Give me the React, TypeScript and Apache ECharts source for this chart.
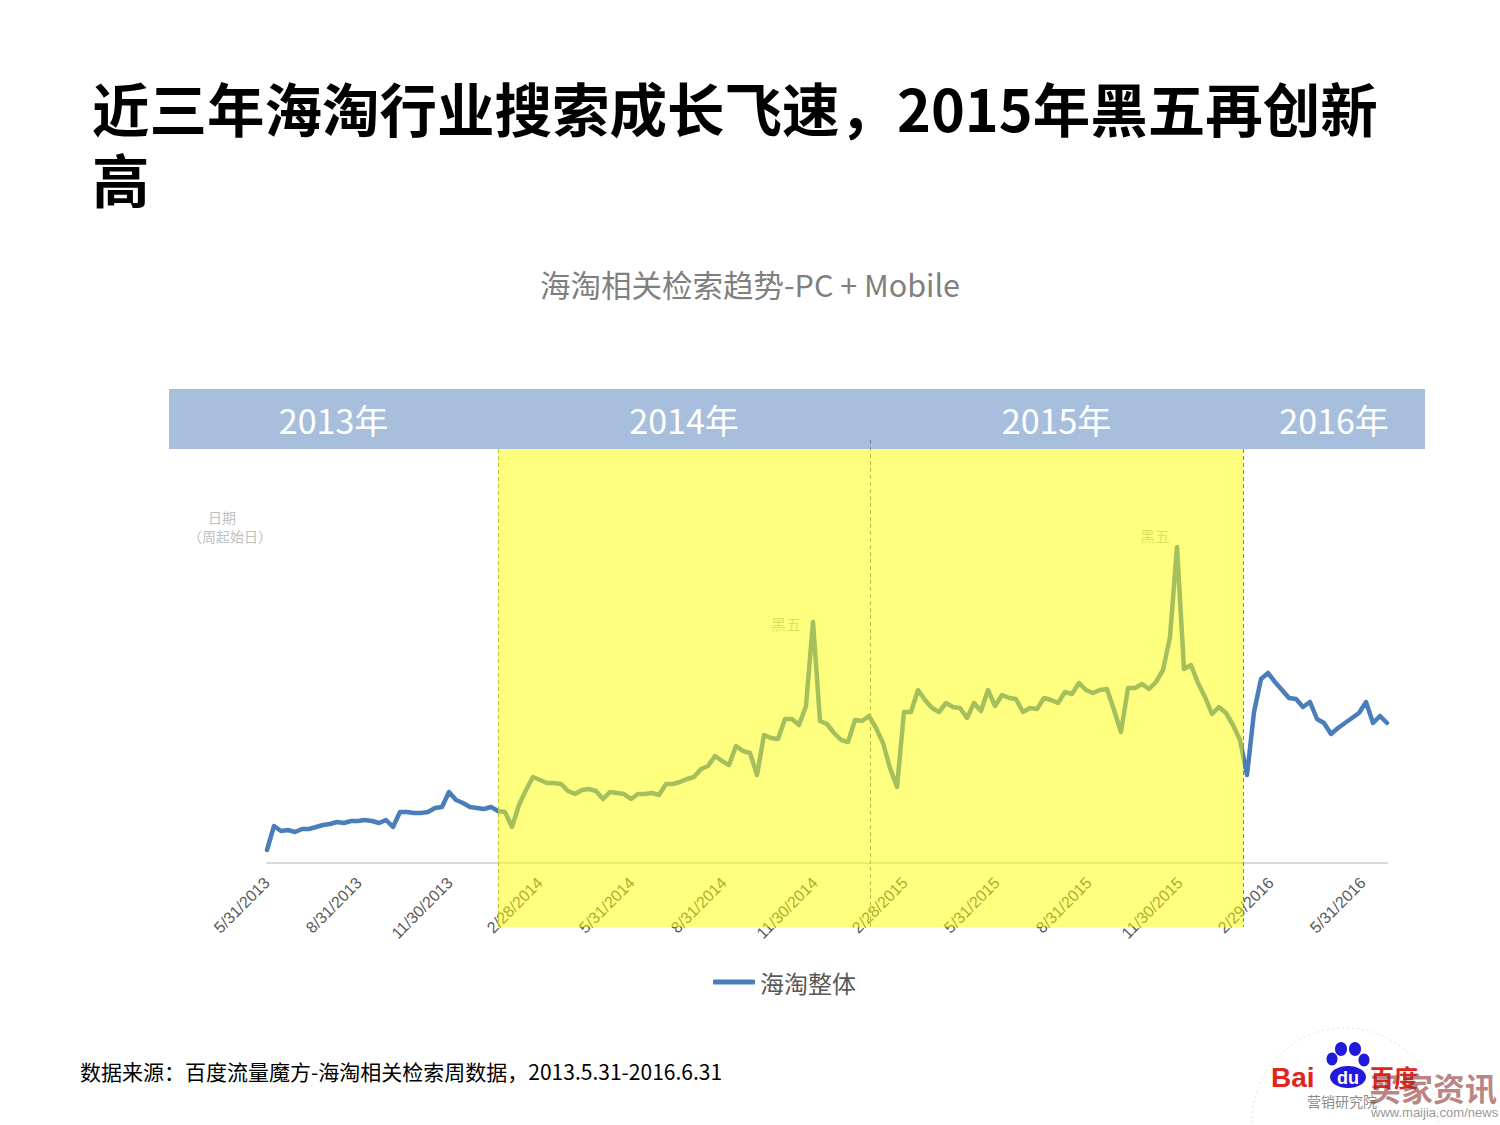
import { useEffect, useRef } from 'react';
import * as echarts from 'echarts';

// weekly series start (each point = week starting on that Friday)
const startDate = '5/31/2013';
// 海淘整体 weekly search index (relative units)
const searchIndex = [
  13, 37, 32, 33, 31, 34, 34, 36, 38, 39, 41, 40, 42, 42, 43, 42, 40, 43, 36, 51,
  51, 50, 50, 51, 55, 56, 71, 63, 60, 56, 55, 54, 56, 52, 51, 36, 58, 73, 86, 83,
  80, 80, 79, 72, 69, 73, 74, 72, 64, 71, 70, 69, 64, 69, 69, 70, 68, 79, 79, 81,
  84, 86, 94, 97, 107, 102, 98, 117, 112, 110, 88, 128, 125, 124, 144, 144, 138, 157, 241, 142,
  139, 130, 123, 121, 143, 142, 147, 135, 120, 95, 76, 151, 151, 173, 163, 155, 151, 160, 156, 155,
  145, 160, 152, 173, 157, 168, 165, 164, 151, 155, 154, 165, 163, 160, 171, 169, 180, 173, 170, 173,
  174, 153, 131, 175, 175, 179, 174, 181, 193, 226, 316, 194, 198, 180, 166, 149, 156, 150, 138, 123,
  88, 151, 184, 190, 181, 173, 165, 164, 156, 161, 144, 140, 129, 135, 140, 145, 150, 161, 140, 147,
  140,
];
const tickLabels = [
  '5/31/2013', '8/31/2013', '11/30/2013', '2/28/2014', '5/31/2014', '8/31/2014', '11/30/2014',
  '2/28/2015', '5/31/2015', '8/31/2015', '11/30/2015', '2/29/2016', '5/31/2016',
];
const yearLabels = ['2013年', '2014年', '2015年', '2016年'];
// boundaries between the shaded year periods
const periodBounds = ['1/17/2014', '1/24/2015', '2/1/2016'];
// Black Friday weeks
const blackFridayWeeks = ['11/28/2014', '11/27/2015'];
const seriesName = '海淘整体';

const DAY = 86400000;
function toUTC(s: string) {
  const [m, d, y] = s.split('/').map(Number);
  return Date.UTC(y, m - 1, d);
}
const start = toUTC(startDate);
const dayOf = (s: string) => Math.round((toUTC(s) - start) / DAY);

export default function App() {
  const ref = useRef<HTMLDivElement>(null);
  useEffect(() => {
    document.body.style.margin = '0';
    if (!ref.current) return;
    const chart = echarts.init(ref.current, null, { renderer: 'svg' });
    const tickDays = tickLabels.map(dayOf);
    const labelMap: Record<number, string> = {};
    tickDays.forEach((d, i) => (labelMap[d] = tickLabels[i]));
    const data = searchIndex.map((v, i) => [i * 7, v]);
    const bounds = periodBounds.map(dayOf);
    const bfPoints = blackFridayWeeks.map((w) => {
      const d = dayOf(w);
      return [d, searchIndex[Math.round(d / 7)]];
    });
    const cjk = 'Noto Sans CJK SC';
    const bandTop = 389;
    const plotTop = 449;
    const shadeBottom = 927;

    chart.setOption({
      animation: false,
      backgroundColor: '#fff',
      title: {
        text: '海淘相关检索趋势-PC + Mobile',
        left: 'center',
        top: 264,
        textStyle: { fontSize: 30.5, color: '#7F7F7F', fontWeight: 'normal', fontFamily: cjk },
      },
      legend: {
        data: [seriesName],
        left: 713,
        top: 970,
        padding: 0,
        icon: 'roundRect',
        itemWidth: 42,
        itemHeight: 5,
        itemGap: 4,
        textStyle: { fontSize: 24, color: '#595959', fontFamily: cjk },
      },
      grid: { left: 267, right: 113, top: plotTop, bottom: 262 },
      xAxis: {
        type: 'value',
        min: 0,
        max: 1120,
        splitLine: { show: false },
        axisLine: { lineStyle: { color: '#D9D9D9', width: 2 } },
        axisTick: { show: false, customValues: tickDays },
        axisLabel: {
          customValues: tickDays,
          rotate: 45,
          margin: 17,
          color: '#595959',
          fontSize: 16,
          fontFamily: 'Liberation Sans',
          formatter: (v: number) => labelMap[v] ?? '',
        },
      },
      yAxis: {
        type: 'value',
        min: 0,
        max: 414,
        show: false,
        splitLine: { show: false },
      },
      series: [
        {
          name: seriesName,
          type: 'line',
          data,
          symbol: 'none',
          clip: false,
          z: 2,
          lineStyle: { color: '#4A7EBB', width: 4.5, cap: 'round', join: 'round' },
          itemStyle: { color: '#4A7EBB' },
          markLine: {
            silent: true,
            symbol: 'none',
            z: 3,
            label: { show: false },
            lineStyle: { color: '#7F7F7F', type: [4, 3], width: 1 },
            data: bounds.map((b, i) => [
              { xAxis: b, y: i === 1 ? plotTop - 9 : plotTop },
              { xAxis: b, y: shadeBottom },
            ]),
          },
          markPoint: {
            silent: true,
            symbol: 'circle',
            symbolSize: 1,
            z: 3,
            itemStyle: { color: 'rgba(0,0,0,0)' },
            data: bfPoints.map((p, i) => ({
              coord: p,
              label: {
                show: true,
                formatter: '黑五',
                position: 'inside',
                offset: i === 0 ? [-27, 1] : [-22, -12],
                color: '#BFBFBF',
                fontSize: 15,
                fontFamily: cjk,
              },
            })),
          },
        },
        {
          name: 'overlay',
          type: 'line',
          data: [],
          z: 20,
          clip: false,
          silent: true,
          markArea: {
            silent: true,
            z: 20,
            itemStyle: { color: 'rgba(255,255,0,0.5)' },
            data: [[{ xAxis: bounds[0], y: plotTop }, { xAxis: bounds[2], y: shadeBottom }]],
          },
        },
      ],
    });

    const px = (d: number) => chart.convertToPixel({ gridIndex: 0 }, [d, 0])[0];
    const bandLeft = 169;
    const bandRight = 1425;
    const edges = [bandLeft, ...bounds.map(px), bandRight];
    const yearTexts = yearLabels.map((t, i) => ({
      type: 'text',
      x: (edges[i] + edges[i + 1]) / 2,
      y: 419,
      style: {
        text: t,
        fill: '#fff',
        fontSize: 34,
        fontFamily: cjk,
        align: 'center',
        verticalAlign: 'middle',
      },
    }));

    chart.setOption({
      graphic: [
        {
          type: 'text',
          x: 92,
          y: 71,
          style: {
            text: '近三年海淘行业搜索成长飞速，2015年黑五再创新\n高',
            fill: '#000',
            fontSize: 57.5,
            lineHeight: 71,
            fontWeight: 'bold',
            fontFamily: cjk,
            verticalAlign: 'top',
          },
        },
        {
          type: 'rect',
          shape: { x: bandLeft, y: bandTop, width: bandRight - bandLeft, height: plotTop - bandTop },
          style: { fill: '#A7BFDD' },
        },
        ...yearTexts,
        {
          type: 'text',
          x: 222,
          y: 517,
          style: { text: '日期', fill: '#BFBFBF', fontSize: 14, fontFamily: cjk, align: 'center', verticalAlign: 'middle' },
        },
        {
          type: 'text',
          x: 230,
          y: 536,
          style: { text: '（周起始日）', fill: '#BFBFBF', fontSize: 14, fontFamily: cjk, align: 'center', verticalAlign: 'middle' },
        },
        {
          type: 'text',
          x: 80,
          y: 1071,
          style: {
            text: '数据来源：百度流量魔方-海淘相关检索周数据，2013.5.31-2016.6.31',
            fill: '#000',
            fontSize: 21,
            fontFamily: cjk,
            verticalAlign: 'middle',
          },
        },
        // logo
        {
          type: 'circle',
          shape: { cx: 1345, cy: 1121, r: 93 },
          style: { fill: 'none', stroke: '#E3E3E3', lineWidth: 1, lineDash: [2, 3] },
        },
        {
          type: 'text',
          x: 1271,
          y: 1077,
          style: { text: 'Bai', fill: '#E1251B', fontSize: 28, fontWeight: 'bold', fontFamily: 'Liberation Sans', verticalAlign: 'middle' },
        },
        { type: 'ellipse', shape: { cx: 1332, cy: 1059, rx: 5.5, ry: 6.5 }, style: { fill: '#2319DC' } },
        { type: 'ellipse', shape: { cx: 1341, cy: 1049, rx: 6, ry: 7 }, style: { fill: '#2319DC' } },
        { type: 'ellipse', shape: { cx: 1355, cy: 1049, rx: 6, ry: 7 }, style: { fill: '#2319DC' } },
        { type: 'ellipse', shape: { cx: 1364, cy: 1060, rx: 5.5, ry: 6.5 }, style: { fill: '#2319DC' } },
        { type: 'ellipse', shape: { cx: 1348, cy: 1077, rx: 18, ry: 11 }, style: { fill: '#2319DC' } },
        {
          type: 'text',
          x: 1348,
          y: 1078,
          style: { text: 'du', fill: '#fff', fontSize: 18, fontWeight: 'bold', fontFamily: 'Liberation Sans', align: 'center', verticalAlign: 'middle' },
        },
        {
          type: 'text',
          x: 1370,
          y: 1076,
          style: { text: '百度', fill: '#E1251B', fontSize: 24, fontWeight: 'bold', fontFamily: cjk, verticalAlign: 'middle' },
        },
        {
          type: 'text',
          x: 1307,
          y: 1101,
          style: { text: '营销研究院', fill: '#8C8C8C', fontSize: 14, fontFamily: cjk, verticalAlign: 'middle' },
        },
        {
          type: 'text',
          x: 1369,
          y: 1087,
          style: { text: '买家资讯', fill: 'rgba(140,50,50,0.6)', fontSize: 32, fontWeight: 'bold', fontFamily: cjk, verticalAlign: 'middle' },
        },
        {
          type: 'text',
          x: 1371,
          y: 1112,
          style: { text: 'www.maijia.com/news', fill: '#9A9A9A', fontSize: 13, fontFamily: 'Liberation Sans', verticalAlign: 'middle' },
        },
      ],
    });

    return () => chart.dispose();
  }, []);
  return (
    <div
      ref={ref}
      style={{ position: 'absolute', left: 0, top: 0, width: 1500, height: 1125, background: '#fff' }}
    />
  );
}
